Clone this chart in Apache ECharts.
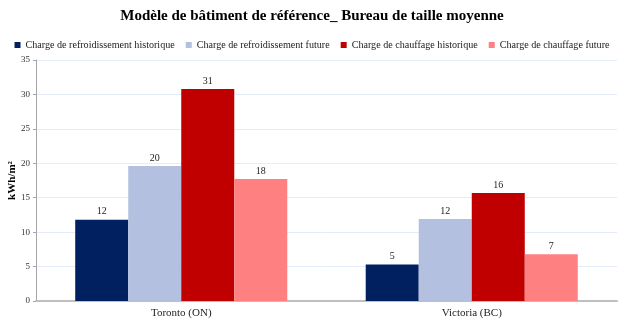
<!DOCTYPE html>
<html><head><meta charset="utf-8">
<script src="https://cdn.jsdelivr.net/npm/echarts@6/dist/echarts.min.js"></script>
<style>html,body{margin:0;padding:0;background:#fff}#c{width:624px;height:323px}</style>
</head><body><div id="c"></div>
<script>
const categories = ["Toronto (ON)", "Victoria (BC)"];
const seriesNames = ["Charge de refroidissement historique", "Charge de refroidissement future", "Charge de chauffage historique", "Charge de chauffage future"];
const coolHist = [11.8, 5.3];
const coolFut = [19.6, 11.9];
const heatHist = [30.8, 15.7];
const heatFut = [17.7, 6.8];
const colors = ["#002060", "#B4C0E0", "#C00000", "#FF8080"];
const yTicks = [0, 5, 10, 15, 20, 25, 30, 35];

const font = "'Liberation Serif', 'Times New Roman', serif";
const values = [coolHist, coolFut, heatHist, heatFut];
const chart = echarts.init(document.getElementById('c'));
chart.setOption({
  animation: false,
  textStyle: {fontFamily: font},
  title: {text: "Modèle de bâtiment de référence_ Bureau de taille moyenne", left: 'center', top: 4,
    textStyle: {fontFamily: font, fontSize: 15, fontWeight: 'bold', color: '#000'}},
  legend: {top: 40, left: 'center', itemWidth: 6, itemHeight: 6, itemGap: 11, icon: 'rect',
    textStyle: {fontFamily: font, fontSize: 10.1, color: '#222'}, padding: 0},
  grid: {left: 36, right: 7, top: 60, bottom: 22, outerBoundsMode: 'none', containLabel: false},
  xAxis: {type: 'category', data: categories,
    axisLine: {lineStyle: {color: '#bfbfbf', width: 2}}, axisTick: {show: false},
    axisLabel: {fontFamily: font, fontSize: 11, color: '#222', margin: 7}},
  yAxis: {type: 'value', min: yTicks[0], max: yTicks[yTicks.length-1], interval: 5,
    name: 'kWh/m²', nameLocation: 'middle', nameGap: 18, nameRotate: 90, nameMoveOverlap: false,
    nameTextStyle: {fontFamily: font, fontSize: 11, fontWeight: 'bold', color: '#000'},
    axisLine: {show: true, lineStyle: {color: '#a6a6a6'}}, axisTick: {show: true, length: 3, lineStyle: {color: '#a6a6a6'}},
    axisLabel: {fontFamily: font, fontSize: 9, color: '#333', margin: 6},
    splitLine: {lineStyle: {color: '#e3ecf7'}}},
  series: seriesNames.map((n, i) => ({
    name: n, type: 'bar', data: values[i], barGap: '0%', barCategoryGap: '27%',
    itemStyle: {color: colors[i]},
    label: {show: true, position: 'top', fontFamily: font, fontSize: 10, color: '#222', distance: 3,
      formatter: p => Math.round(p.value)}
  }))
});
</script></body></html>
